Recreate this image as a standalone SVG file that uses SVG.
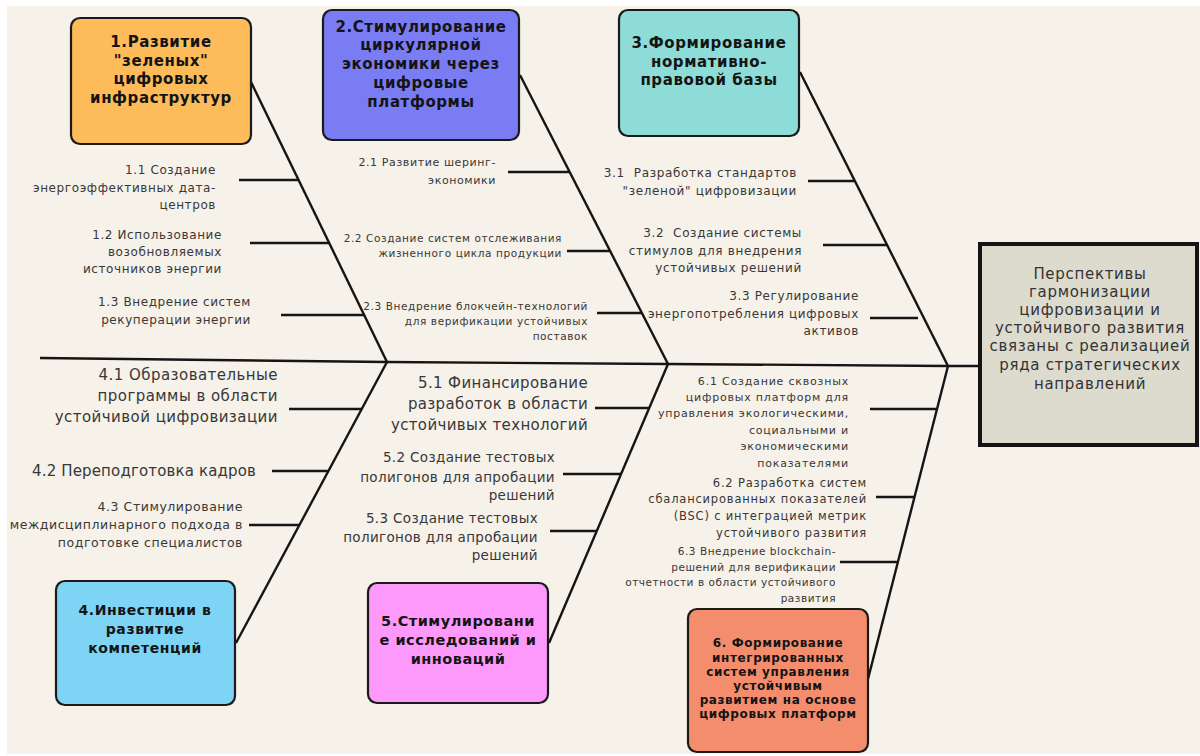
<svg xmlns="http://www.w3.org/2000/svg" width="1200" height="756" viewBox="0 0 1200 756">
<style>
.box{stroke:#1a1a1a;stroke-width:2.2}
.bt{font-family:"DejaVu Sans",sans-serif;font-weight:bold;fill:#141414;text-anchor:middle}
.st{font-family:"DejaVu Sans",sans-serif;fill:#383838;text-anchor:end}
.ln{stroke:#151515;stroke-width:2.4;fill:none;stroke-linecap:butt}
</style>
<rect x="0" y="0" width="1200" height="756" fill="#ffffff"/>
<rect x="7" y="6" width="1193" height="748" fill="#F6F1E9"/>

<g id="connectors">
<polyline class="ln" points="40,358 387,362 668,364 948,366 980,366"/>
<line class="ln" x1="251" y1="82" x2="387" y2="362"/>
<line class="ln" x1="520" y1="75" x2="668" y2="364"/>
<line class="ln" x1="800" y1="72" x2="948" y2="366"/>
<line class="ln" x1="387" y1="362" x2="236" y2="643"/>
<line class="ln" x1="668" y1="364" x2="549" y2="643"/>
<line class="ln" x1="948" y1="366" x2="868" y2="679"/>
<line class="ln" x1="239" y1="180" x2="299" y2="180"/>
<line class="ln" x1="250" y1="243" x2="330" y2="243"/>
<line class="ln" x1="281" y1="315" x2="365" y2="315"/>
<line class="ln" x1="508" y1="172" x2="570" y2="172"/>
<line class="ln" x1="567" y1="251" x2="610" y2="251"/>
<line class="ln" x1="597" y1="313" x2="642" y2="313"/>
<line class="ln" x1="808" y1="181" x2="854" y2="181"/>
<line class="ln" x1="823" y1="245" x2="887" y2="245"/>
<line class="ln" x1="870" y1="318" x2="918" y2="318"/>
<line class="ln" x1="289" y1="409" x2="362" y2="409"/>
<line class="ln" x1="272" y1="471" x2="328" y2="471"/>
<line class="ln" x1="249" y1="525" x2="299" y2="525"/>
<line class="ln" x1="595" y1="408" x2="649" y2="408"/>
<line class="ln" x1="563" y1="474" x2="621" y2="474"/>
<line class="ln" x1="550" y1="531" x2="597" y2="531"/>
<line class="ln" x1="870" y1="409" x2="937" y2="409"/>
<line class="ln" x1="876" y1="497" x2="915" y2="497"/>
<line class="ln" x1="840" y1="562" x2="898" y2="562"/>
</g>

<g id="node1">
<rect class="box" x="71" y="18" width="180" height="126" rx="9" fill="#FDBB5A"/>
<text class="bt" font-size="15" letter-spacing="0.6"><tspan x="161" y="47">1.Развитие</tspan><tspan x="161" y="66">"зеленых"</tspan><tspan x="161" y="84">цифровых</tspan><tspan x="161" y="103">инфраструктур</tspan></text>
</g>
<g id="node1-items">
<text class="st" font-size="12" letter-spacing="0.6"><tspan x="216" y="174">1.1 Создание</tspan><tspan x="216" y="192">энергоэффективных дата-</tspan><tspan x="216" y="209">центров</tspan></text>
<text class="st" font-size="12" letter-spacing="0.6"><tspan x="222" y="239">1.2 Использование</tspan><tspan x="222" y="256">возобновляемых</tspan><tspan x="222" y="273">источников энергии</tspan></text>
<text class="st" font-size="12" letter-spacing="0.6"><tspan x="251" y="306">1.3 Внедрение систем</tspan><tspan x="251" y="324">рекуперации энергии</tspan></text>
</g>

<g id="node2">
<rect class="box" x="323" y="10" width="196" height="130" rx="9" fill="#7A7CF3"/>
<text class="bt" font-size="15" letter-spacing="0.6"><tspan x="421" y="32">2.Стимулирование</tspan><tspan x="421" y="50">циркулярной</tspan><tspan x="421" y="69">экономики через</tspan><tspan x="421" y="88">цифровые</tspan><tspan x="421" y="107">платформы</tspan></text>
</g>
<g id="node2-items">
<text class="st" font-size="11" letter-spacing="0.6"><tspan x="496" y="166">2.1 Развитие шеринг-</tspan><tspan x="496" y="184">экономики</tspan></text>
<text class="st" font-size="10.5" letter-spacing="0.6"><tspan x="562" y="242">2.2 Создание систем отслеживания</tspan><tspan x="562" y="257">жизненного цикла продукции</tspan></text>
<text class="st" font-size="10.5" letter-spacing="0.6"><tspan x="588" y="310">2.3 Внедрение блокчейн-технологий</tspan><tspan x="588" y="325">для верификации устойчивых</tspan><tspan x="588" y="340">поставок</tspan></text>
</g>

<g id="node3">
<rect class="box" x="619" y="10" width="180" height="126" rx="9" fill="#8DDCD8"/>
<text class="bt" font-size="15" letter-spacing="0.6"><tspan x="709" y="48">3.Формирование</tspan><tspan x="709" y="67">нормативно-</tspan><tspan x="709" y="85">правовой базы</tspan></text>
</g>
<g id="node3-items">
<text class="st" font-size="12" letter-spacing="0.65"><tspan x="797" y="177" xml:space="preserve">3.1  Разработка стандартов</tspan><tspan x="797" y="195">"зеленой" цифровизации</tspan></text>
<text class="st" font-size="12" letter-spacing="0.65"><tspan x="802" y="237" xml:space="preserve">3.2  Создание системы</tspan><tspan x="802" y="255">стимулов для внедрения</tspan><tspan x="802" y="272">устойчивых решений</tspan></text>
<text class="st" font-size="12" letter-spacing="0.65"><tspan x="859" y="300">3.3 Регулирование</tspan><tspan x="859" y="318">энергопотребления цифровых</tspan><tspan x="859" y="335">активов</tspan></text>
</g>

<g id="node-main">
<rect x="980" y="244" width="217" height="201" fill="#DDDACE" stroke="#141414" stroke-width="4"/>
<text font-family="DejaVu Sans, sans-serif" font-size="15" fill="#333" text-anchor="middle" letter-spacing="0.7"><tspan x="1090" y="279">Перспективы</tspan><tspan x="1090" y="297">гармонизации</tspan><tspan x="1090" y="315">цифровизации и</tspan><tspan x="1090" y="333">устойчивого развития</tspan><tspan x="1090" y="351">связаны с реализацией</tspan><tspan x="1090" y="370">ряда стратегических</tspan><tspan x="1090" y="389">направлений</tspan></text>
</g>

<g id="node4">
<rect class="box" x="56" y="581" width="179" height="124" rx="9" fill="#7DD4F4"/>
<text class="bt" font-size="14" letter-spacing="0.6"><tspan x="145" y="615">4.Инвестиции в</tspan><tspan x="145" y="634">развитие</tspan><tspan x="145" y="653">компетенций</tspan></text>
</g>
<g id="node4-items">
<text class="st" font-size="15" letter-spacing="0.45"><tspan x="278" y="380">4.1 Образовательные</tspan><tspan x="278" y="401">программы в области</tspan><tspan x="278" y="422">устойчивой цифровизации</tspan></text>
<text class="st" font-size="15" letter-spacing="0.15"><tspan x="256" y="476">4.2 Переподготовка кадров</tspan></text>
<text class="st" font-size="12.5" letter-spacing="0.55"><tspan x="243" y="511">4.3 Стимулирование</tspan><tspan x="243" y="529">междисциплинарного подхода в</tspan><tspan x="243" y="547">подготовке специалистов</tspan></text>
</g>

<g id="node5">
<rect class="box" x="368" y="583" width="180" height="120" rx="9" fill="#FD99FA"/>
<text class="bt" font-size="14.5" letter-spacing="0.5"><tspan x="458" y="626">5.Стимулировани</tspan><tspan x="458" y="645">е исследований и</tspan><tspan x="458" y="664">инноваций</tspan></text>
</g>
<g id="node5-items">
<text class="st" font-size="15" letter-spacing="0.35"><tspan x="588" y="388">5.1 Финансирование</tspan><tspan x="588" y="409">разработок в области</tspan><tspan x="588" y="430">устойчивых технологий</tspan></text>
<text class="st" font-size="13.5" letter-spacing="0.35"><tspan x="555" y="462">5.2 Создание тестовых</tspan><tspan x="555" y="482">полигонов для апробации</tspan><tspan x="555" y="500">решений</tspan></text>
<text class="st" font-size="13.5" letter-spacing="0.35"><tspan x="538" y="523">5.3 Создание тестовых</tspan><tspan x="538" y="542">полигонов для апробации</tspan><tspan x="538" y="560">решений</tspan></text>
</g>

<g id="node6">
<rect class="box" x="688" y="609" width="180" height="143" rx="9" fill="#F48D6E"/>
<text class="bt" font-size="12" letter-spacing="0.6"><tspan x="778" y="647">6. Формирование</tspan><tspan x="778" y="662">интегрированных</tspan><tspan x="778" y="676">систем управления</tspan><tspan x="778" y="690">устойчивым</tspan><tspan x="778" y="704">развитием на основе</tspan><tspan x="778" y="718">цифровых платформ</tspan></text>
</g>
<g id="node6-items">
<text class="st" font-size="11" letter-spacing="0.8"><tspan x="849" y="385">6.1 Создание сквозных</tspan><tspan x="849" y="401">цифровых платформ для</tspan><tspan x="849" y="417">управления экологическими,</tspan><tspan x="849" y="434">социальными и</tspan><tspan x="849" y="450">экономическими</tspan><tspan x="849" y="467">показателями</tspan></text>
<text class="st" font-size="11.5" letter-spacing="0.8"><tspan x="867" y="487">6.2 Разработка систем</tspan><tspan x="867" y="503">сбалансированных показателей</tspan><tspan x="867" y="520">(BSC) с интеграцией метрик</tspan><tspan x="867" y="537">устойчивого развития</tspan></text>
<text class="st" font-size="10.5" letter-spacing="0.55"><tspan x="836" y="555">6.3 Внедрение blockchain-</tspan><tspan x="836" y="571">решений для верификации</tspan><tspan x="836" y="586">отчетности в области устойчивого</tspan><tspan x="836" y="602">развития</tspan></text>
</g>
</svg>
